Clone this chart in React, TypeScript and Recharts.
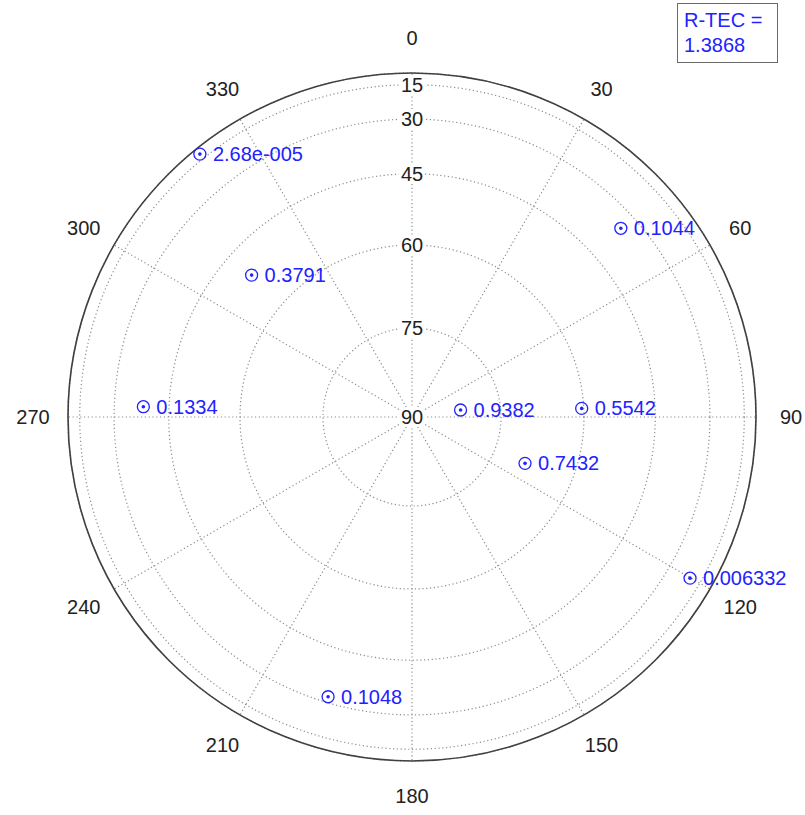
import React from 'react'
import {
  RadarChart, PolarGrid, PolarAngleAxis, PolarRadiusAxis, Radar,
  ScatterChart, Scatter, XAxis, YAxis,
} from 'recharts'

// azimuth spokes (deg, clockwise from north)
const azimuthTicks = ['0', '30', '60', '90', '120', '150', '180', '210', '240', '270', '300', '330']
// elevation rings (deg); ring radius goes with cos(elevation)
const elevationRings = [90, 75, 60, 45, 30, 15, 0]

// satellites: azimuth, elevation, value printed next to the marker
const satAzimuth = [321.1, 47.9, 311.5, 272.2, 81.8, 87.1, 112.3, 120.1, 196.7]
const satElevation = [10.9, 35.1, 51.5, 38.6, 81.8, 60.4, 69.2, 20.9, 31.9]
const satValue = ['2.68e-005', '0.1044', '0.3791', '0.1334', '0.9382', '0.5542', '0.7432', '0.006332', '0.1048']

const rTec = '1.3868'

const W = 805
const H = 815
const CX = 412
const CY = 417
const R = 344

const BLUE = '#2222ff'
const INK = '#222'
const FONT = '"Liberation Sans", Arial, Helvetica, sans-serif'

const rad = (d: number) => (d * Math.PI) / 180

const ringTicks = elevationRings.map(e => Math.cos(rad(e)))
const spokeData = azimuthTicks.map(a => ({ az: a, r: 0 }))

const satData = satAzimuth.map((az, i) => ({
  x: Math.cos(rad(satElevation[i])) * Math.sin(rad(az)),
  y: Math.cos(rad(satElevation[i])) * Math.cos(rad(az)),
  label: satValue[i],
}))

function AzimuthTick(props: any) {
  const { x, y, payload } = props
  return (
    <text x={x} y={y} textAnchor="middle" dominantBaseline="central"
      fill={INK} fontSize={20} fontFamily={FONT}>
      {payload.value}
    </text>
  )
}

function RingTick(props: any) {
  const { x, y, payload } = props
  const el = Math.round((Math.acos(Math.min(1, payload.value)) * 180) / Math.PI)
  if (el === 0) return null
  const label = String(el)
  const w = label.length * 11 + 4
  return (
    <g>
      <rect x={x - w / 2} y={y - 10} width={w} height={20} fill="#fff" />
      <text x={x} y={y} textAnchor="middle" dominantBaseline="central"
        fill={INK} fontSize={20} fontFamily={FONT}>
        {label}
      </text>
    </g>
  )
}

function SatMarker(props: any) {
  const { cx, cy, payload } = props
  return (
    <g>
      <circle cx={cx} cy={cy} r={6} fill="none" stroke={BLUE} strokeWidth={1.3} />
      <circle cx={cx} cy={cy} r={1.8} fill={BLUE} />
      <text x={cx + 13} y={cy} dominantBaseline="central"
        fill={BLUE} fontSize={20} fontFamily={FONT}>
        {payload.label}
      </text>
    </g>
  )
}

export default function App() {
  return (
    <div style={{ position: 'fixed', left: 0, top: 0, width: W, height: H, background: '#fff', fontFamily: FONT }}>
      <div style={{ position: 'absolute', left: 0, top: 0 }}>
        <RadarChart width={W} height={H} cx={CX} cy={CY} outerRadius={R}
          data={spokeData} margin={{ top: 0, right: 0, bottom: 0, left: 0 }}>
          <PolarGrid gridType="circle" stroke="#8c8c8c" strokeWidth={1.2} strokeDasharray="1.2 2.6" />
          <PolarAngleAxis dataKey="az" axisLineType="circle" tickLine={false} tickSize={35}
            axisLine={{ stroke: '#404040', strokeWidth: 1.6 }} tick={<AzimuthTick />} />
          <PolarRadiusAxis angle={90} type="number" domain={[0, 1]} ticks={ringTicks}
            allowDataOverflow axisLine={false} tick={<RingTick />} />
          <Radar dataKey="r" stroke="none" fill="none" dot={false} isAnimationActive={false} />
        </RadarChart>
      </div>
      <div style={{ position: 'absolute', left: 0, top: 0 }}>
        <ScatterChart width={W} height={H}
          margin={{ top: CY - R, left: CX - R, right: W - (CX + R), bottom: H - (CY + R) }}>
          <XAxis type="number" dataKey="x" domain={[-1, 1]} hide />
          <YAxis type="number" dataKey="y" domain={[-1, 1]} hide />
          <Scatter data={satData} shape={<SatMarker />} isAnimationActive={false} />
        </ScatterChart>
      </div>
      <div style={{
        position: 'absolute', left: 677, top: 3, width: 101, height: 60, boxSizing: 'border-box',
        border: '1.5px solid #6a6a6a', padding: '4px 0 0 6px', color: BLUE, fontSize: 20, lineHeight: '25px',
      }}>
        <div>R-TEC =</div>
        <div>{rTec}</div>
      </div>
    </div>
  )
}
